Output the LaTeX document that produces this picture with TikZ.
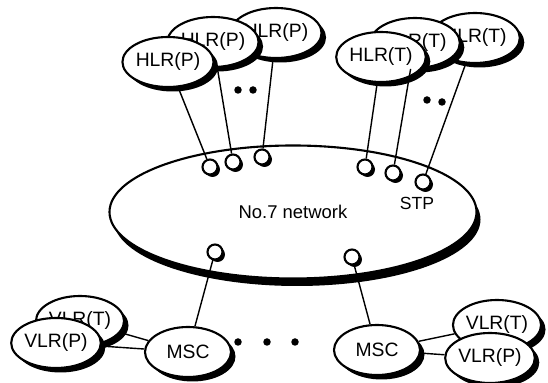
\documentclass[tikz,border=0pt]{standalone}
\usepackage{fontspec}
\setmainfont{Liberation Sans}
\usetikzlibrary{positioning, shapes, shadows}
\tikzstyle{register}=[ellipse, draw, fill=white, line width=1.2pt, minimum width=1.72cm, minimum height=1cm, inner sep=0pt, font=\fontsize{11}{13}\selectfont, drop shadow={shadow xshift=0.09cm, shadow yshift=-0.09cm, fill=black, opacity=1}]
\tikzstyle{network}=[ellipse, draw, fill=white, line width=1.2pt, minimum width=7.34cm, minimum height=2.66cm, font=\fontsize{10.5}{12}\selectfont, drop shadow={shadow xshift=0.08cm, shadow yshift=-0.15cm, fill=black, opacity=1}]
\tikzstyle{stp}=[circle, draw, fill=white, line width=1.2pt, minimum size=0.3cm, inner sep=0pt, font=\fontsize{11}{13}\selectfont, drop shadow={shadow xshift=0.05cm, shadow yshift=-0.05cm, fill=black, opacity=1}]
\tikzstyle{dot}=[circle, fill=black, minimum size=0.15cm, inner sep=0pt]
\tikzstyle{wire}=[line width=0.8pt]

\begin{document}
\begin{tikzpicture}
                \useasboundingbox (0,0) rectangle (10.96,-7.66);

                % Reseau No.7 et STP
                \node[network] (net) at (5.86,-4.24) {No.7 network};
                \node[stp] (cp1) at (4.20,-3.34) {};
                \node[stp] (cp2) at (4.66,-3.24) {};
                \node[stp] (cp3) at (5.24,-3.14) {};
                \node[stp] (ct1) at (7.30,-3.34) {};
                \node[stp] (ct2) at (7.86,-3.46) {};
                \node[stp, label={[xshift=-0.12cm]below:STP}] (ct3) at (8.46,-3.64) {};
                \node[stp] (cm1) at (4.30,-5.04) {};
                \node[stp] (cm2) at (7.04,-5.14) {};

                % HLR
                \node[register] (hp3) at (5.52,-0.66) {HLR(P)};
                \node[register] (hp2) at (4.26,-0.84) {HLR(P)};
                \node[register] (hp1) at (3.36,-1.24) {HLR(P)};
                \node[register] (ht3) at (9.50,-0.76) {HLR(T)};
                \node[register] (ht2) at (8.30,-0.86) {HLR(T)};
                \node[register] (ht1) at (7.62,-1.14) {HLR(T)};
                \node[dot] (dp1) at (4.76,-1.80) {};
                \node[dot] (dp2) at (5.06,-1.80) {};
                \node[dot] (dt1) at (8.54,-2.00) {};
                \node[dot] (dt2) at (8.84,-2.04) {};

                % MSC et VLR
                \node[register] (msc1) at (3.76,-7.04) {MSC};
                \node[register] (msc2) at (7.54,-7.00) {MSC};
                \node[register] (vt1) at (1.60,-6.42) {VLR(T)};
                \node[register] (vp1) at (1.12,-6.86) {VLR(P)};
                \node[register] (vt2) at (9.94,-6.50) {VLR(T)};
                \node[register] (vp2) at (9.80,-7.16) {VLR(P)};
                \node[dot] (dm1) at (4.76,-6.84) {};
                \node[dot] (dm2) at (5.34,-6.84) {};
                \node[dot] (dm3) at (5.90,-6.84) {};

                % Liaisons
                \draw[wire] (hp1) -- (cp1);
                \draw[wire] (hp2) -- (cp2);
                \draw[wire] (hp3) -- (cp3);
                \draw[wire] (ht1) -- (ct1);
                \draw[wire] (ht2) -- (ct2);
                \draw[wire] (ht3) -- (ct3);
                \draw[wire] (cm1) -- (msc1);
                \draw[wire] (cm2) -- (msc2);
                \draw[wire] (vt1) -- (msc1);
                \draw[wire] (vp1) -- (msc1);
                \draw[wire] (msc2) -- (vt2);
                \draw[wire] (msc2) -- (vp2);
            \end{tikzpicture}
\end{document}
